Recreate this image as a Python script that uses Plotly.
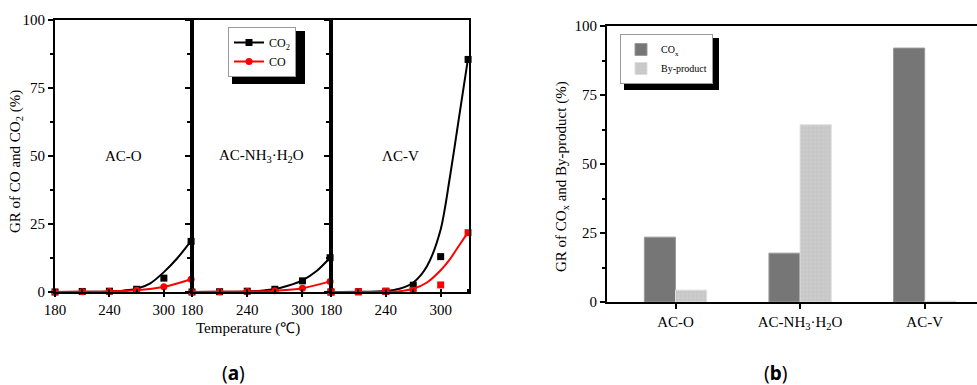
import plotly.graph_objects as go

# ---------------- data: panel (a) ----------------
temps = [180, 210, 240, 270, 300, 330]
panel_names = ["AC-O", "AC-NH<sub>3</sub>·H<sub>2</sub>O", "ΛC-V"]
co2_acO = [0, 0.2, 0.3, 1.0, 5.1, 18.6]
co_acO = [0, 0.1, 0.2, 0.6, 1.9, 4.7]
co2_acN = [0, 0.1, 0.3, 1.0, 4.1, 12.6]
co_acN = [0, 0.1, 0.2, 0.5, 1.4, 3.9]
co2_acV = [0, 0.1, 0.3, 2.5, 13.0, 85.5]
co_acV = [0, 0.1, 0.2, 0.6, 2.6, 21.8]

fit_t = [180, 210, 240, 255, 270, 285, 300, 315, 330]
co2_fit_acO = [0, 0.05, 0.2, 0.5, 1.2, 3.2, 7.3, 12.5, 18.8]
co2_fit_acN = [0, 0.05, 0.2, 0.5, 1.1, 2.4, 4.3, 7.6, 12.6]
fitV_t = [180, 210, 240, 255, 270, 285, 300, 310, 320, 330]
co2_fit_acV = [0, 0.05, 0.4, 1.2, 3.5, 9.5, 23, 42, 64, 86]
co_fit_acV = [0, 0.02, 0.1, 0.3, 1.2, 3.5, 8, 12, 17, 22]

# ---------------- data: panel (b) ----------------
catalysts = ["AC-O", "AC-NH<sub>3</sub>·H<sub>2</sub>O", "AC-V"]
cox_gr = [23.5, 17.7, 92.0]
byproduct_gr = [4.3, 64.2, 0.3]

W, H = 977, 385
def px(x): return x / W
def py(y): return 1 - y / H

SERIF = "Liberation Serif"
BLACK = "#000000"
RED = "#ff0000"

fig = go.Figure()

panel_x = [(55, 192), (192, 331), (331, 469)]
ydom = [py(292), py(20)]

data_sets = [
    (co2_acO, co_acO, fit_t, co2_fit_acO, None, "circle"),
    (co2_acN, co_acN, fit_t, co2_fit_acN, None, "circle"),
    (co2_acV, co_acV, fitV_t, co2_fit_acV, co_fit_acV, "square"),
]

for i, (co2, co, ft, co2f, cof, cosym) in enumerate(data_sets):
    n = "" if i == 0 else str(i + 1)
    xa, ya = "x" + n, "y" + n
    fig.add_trace(go.Scatter(x=ft, y=co2f, xaxis=xa, yaxis=ya, mode="lines",
                             line=dict(color=BLACK, width=2, shape="spline", smoothing=0.8),
                             showlegend=False, cliponaxis=True))
    fig.add_trace(go.Scatter(x=temps, y=co2, xaxis=xa, yaxis=ya, mode="markers",
                             marker=dict(symbol="square", size=7, color=BLACK),
                             showlegend=False, cliponaxis=False))
    if cof is None:
        fig.add_trace(go.Scatter(x=temps, y=co, xaxis=xa, yaxis=ya, mode="lines+markers",
                                 line=dict(color=RED, width=2, shape="spline"),
                                 marker=dict(symbol=cosym, size=7, color=RED),
                                 showlegend=False, cliponaxis=False))
    else:
        fig.add_trace(go.Scatter(x=ft, y=cof, xaxis=xa, yaxis=ya, mode="lines",
                                 line=dict(color=RED, width=2, shape="spline", smoothing=0.8),
                                 showlegend=False))
        fig.add_trace(go.Scatter(x=temps, y=co, xaxis=xa, yaxis=ya, mode="markers",
                                 marker=dict(symbol="square", size=7, color=RED),
                                 showlegend=False, cliponaxis=False))

fig.add_trace(go.Scatter(x=[None], y=[None], mode="lines+markers", name="CO<sub>2</sub>",
                         line=dict(color=BLACK, width=2), marker=dict(symbol="square", size=7, color=BLACK),
                         legend="legend"))
fig.add_trace(go.Scatter(x=[None], y=[None], mode="lines+markers", name="CO",
                         line=dict(color=RED, width=2), marker=dict(symbol="circle", size=7, color=RED),
                         legend="legend"))

fig.add_trace(go.Bar(x=catalysts, y=cox_gr, name="CO<sub>x</sub>", xaxis="x4", yaxis="y4",
                     marker=dict(color="#767676", line=dict(color="#9a9a9a", width=1)),
                     legend="legend2"))
fig.add_trace(go.Bar(x=catalysts, y=byproduct_gr, name="By-product", xaxis="x4", yaxis="y4",
                     marker=dict(color="#c8c8c8", line=dict(color="#dedede", width=1),
                                 pattern=dict(shape="+", size=4, solidity=0.25,
                                              fgcolor="#b4b4b4", bgcolor="#cccccc")),
                     legend="legend2"))

tickfont = dict(family=SERIF, size=15, color=BLACK)
layout = dict(
    width=W, height=H, margin=dict(l=0, r=0, t=0, b=0, autoexpand=False),
    paper_bgcolor="white", plot_bgcolor="white",
    barmode="group", bargap=0.5, bargroupgap=0,
    font=dict(family=SERIF, color=BLACK),
)

for i, (x0, x1) in enumerate(panel_x):
    n = "" if i == 0 else str(i + 1)
    layout["xaxis" + n] = dict(
        domain=[px(x0), px(x1)], range=[180, 331], anchor="y" + n, automargin=False,
        tickmode="linear", tick0=180, dtick=60, ticks="outside", ticklen=3, tickwidth=1.5,
        tickcolor=BLACK, showline=True, linecolor=BLACK, linewidth=2, mirror=True,
        showgrid=False, zeroline=False, tickfont=tickfont,
        minor=dict(dtick=30, tick0=180, ticks="inside", ticklen=3, tickcolor=BLACK, showgrid=False),
    )
    layout["yaxis" + n] = dict(
        domain=ydom, range=[0, 100], anchor="x" + n, automargin=False,
        tickmode="linear", tick0=0, dtick=25, ticks="outside", ticklen=5, tickwidth=1.5,
        tickcolor=BLACK, showline=True, linecolor=BLACK, linewidth=2, mirror=True,
        showgrid=False, zeroline=False, tickfont=tickfont, showticklabels=(i == 0),
        minor=dict(dtick=12.5, ticks="outside", ticklen=3, tickcolor=BLACK, showgrid=False),
    )

layout["xaxis4"] = dict(
    domain=[px(607), 1.0], range=[-0.55, 2.42], anchor="y4", automargin=False,
    ticks="outside", ticklen=5, tickwidth=1.5, tickcolor=BLACK,
    showline=True, linecolor=BLACK, linewidth=2, mirror=True,
    showgrid=False, zeroline=False, tickfont=tickfont,
)
layout["yaxis4"] = dict(
    domain=[py(302), py(26)], range=[0, 100], anchor="x4", automargin=False,
    tickmode="linear", tick0=0, dtick=25, ticks="outside", ticklen=5, tickwidth=1.5,
    tickcolor=BLACK, showline=True, linecolor=BLACK, linewidth=2, mirror=True,
    showgrid=False, zeroline=False, tickfont=tickfont,
    minor=dict(dtick=12.5, ticks="outside", ticklen=3, tickcolor=BLACK, showgrid=False),
)

layout["legend"] = dict(
    x=px(228), y=py(27), xanchor="left", yanchor="top",
    bgcolor="white", bordercolor="#999999", borderwidth=1,
    font=dict(family=SERIF, size=12, color=BLACK),
    itemwidth=30, tracegroupgap=0,
)
layout["legend2"] = dict(
    x=px(620), y=py(34), xanchor="left", yanchor="top",
    bgcolor="white", bordercolor="#999999", borderwidth=1,
    font=dict(family=SERIF, size=10, color=BLACK),
    itemwidth=30, tracegroupgap=0,
)

def note(x, y, text, size=15, angle=0, family=SERIF):
    return dict(x=px(x), y=py(y), xref="paper", yref="paper", text=text, textangle=angle,
                xanchor="center", yanchor="middle", showarrow=False,
                font=dict(family=family, size=size, color=BLACK))

ann = []
centers = [(55 + 192) / 2, (192 + 331) / 2, (331 + 469) / 2]
for c, name in zip(centers, panel_names):
    ann.append(note(c, 156, name))
ann.append(note(16, 162, "GR of CO and CO<sub>2</sub> (%)", angle=-90))
ann.append(note(248, 328, "Temperature (℃)"))
ann.append(note(562, 177, "GR of CO<sub>x</sub> and By-product (%)", angle=-90))
ann.append(note(233, 373, "(<b>a</b>)", size=19, family="Noto Sans"))
ann.append(note(775, 373, "(<b>b</b>)", size=19, family="Noto Sans"))
layout["annotations"] = ann

layout["shapes"] = [
    dict(type="rect", xref="paper", yref="paper", x0=px(232), x1=px(305), y0=py(84), y1=py(31),
         fillcolor=BLACK, line=dict(width=0), layer="above"),
    dict(type="rect", xref="paper", yref="paper", x0=px(624), x1=px(719), y0=py(90), y1=py(38),
         fillcolor=BLACK, line=dict(width=0), layer="above"),
]

fig.update_layout(**layout)
fig.write_html("out.html")
